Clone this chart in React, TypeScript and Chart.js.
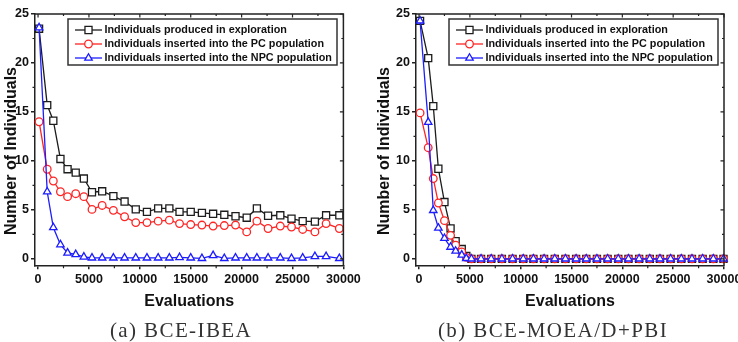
import React, { useEffect, useRef } from "react";
import { Chart, registerables } from "chart.js";

Chart.register(...registerables);

// ---------- shared labels / ticks ----------
const SERIES_LABELS = [
  "Individuals produced in exploration",
  "Individuals inserted into the PC population",
  "Individuals inserted into the NPC population",
];
const X_TITLE = "Evaluations";
const Y_TITLE = "Number of Individuals";
const X_TICKS = [0, 5000, 10000, 15000, 20000, 25000, 30000];
const X_MINOR_TICKS = [2500, 7500, 12500, 17500, 22500, 27500];
const Y_TICKS = [0, 5, 10, 15, 20, 25];
const Y_MINOR_TICKS = [2.5, 7.5, 12.5, 17.5, 22.5];

// ---------- (a) BCE-IBEA ----------
const IBEA_EVALS = [100, 900, 1500, 2200, 2900, 3700, 4500, 5300, 6300, 7400, 8500, 9600, 10700, 11800, 12900, 13900, 15000, 16100, 17200, 18300, 19400, 20500, 21500, 22600, 23800, 24900, 26000, 27200, 28300, 29600];
const IBEA_EXPLORATION = [23.5, 15.7, 14.1, 10.2, 9.15, 8.8, 8.2, 6.8, 6.9, 6.4, 5.85, 5.05, 4.8, 5.15, 5.15, 4.8, 4.8, 4.7, 4.6, 4.5, 4.35, 4.2, 5.15, 4.4, 4.45, 4.1, 3.85, 3.8, 4.45, 4.45];
const IBEA_PC = [14.0, 9.15, 7.95, 6.85, 6.35, 6.65, 6.35, 5.05, 5.45, 4.95, 4.3, 3.7, 3.7, 3.85, 3.95, 3.6, 3.5, 3.45, 3.35, 3.4, 3.45, 2.75, 3.85, 3.1, 3.35, 3.25, 3.0, 2.75, 3.6, 3.1];
const IBEA_NPC = [23.6, 6.85, 3.2, 1.45, 0.6, 0.45, 0.2, 0.1, 0.1, 0.1, 0.1, 0.1, 0.1, 0.1, 0.1, 0.15, 0.1, 0.05, 0.35, 0.05, 0.1, 0.1, 0.1, 0.1, 0.1, 0.05, 0.1, 0.25, 0.25, 0.05];

// ---------- (b) BCE-MOEA/D+PBI ----------
const PBI_EVALS = [100, 900, 1400, 1900, 2500, 3100, 3600, 4200, 4650, 5150, 6100, 7100, 8150, 9200, 10250, 11250, 12300, 13350, 14400, 15450, 16450, 17500, 18550, 19600, 20600, 21650, 22700, 23700, 24750, 25800, 26850, 27900, 28950, 29950];
const PBI_EXPLORATION = [24.3, 20.5, 15.6, 9.2, 5.8, 3.1, 1.8, 1.0, 0.3, 0, 0, 0, 0, 0, 0, 0, 0, 0, 0, 0, 0, 0, 0, 0, 0, 0, 0, 0, 0, 0, 0, 0, 0, 0];
const PBI_PC = [14.9, 11.35, 8.2, 5.7, 3.9, 2.4, 1.4, 0.7, 0.15, 0, 0, 0, 0, 0, 0, 0, 0, 0, 0, 0, 0, 0, 0, 0, 0, 0, 0, 0, 0, 0, 0, 0, 0, 0];
const PBI_NPC = [24.3, 13.95, 4.95, 3.15, 2.1, 1.2, 0.8, 0.4, 0.05, 0, 0, 0, 0, 0, 0, 0, 0, 0, 0, 0, 0, 0, 0, 0, 0, 0, 0, 0, 0, 0, 0, 0, 0, 0];

// ---------- styles ----------
const SERIES_COLORS = ["#1c1c1c", "#ff2424", "#1c1cff"];
const SERIES_MARKERS = ["rect", "circle", "triangle"];
const SERIES_RADII = [5, 3.8, 4.3];
const AXIS_COLOR = "#222222";
const TEXT_COLOR = "#111111";
const SANS = "'Liberation Sans', Arial, Helvetica, sans-serif";

type Panel = {
  canvasLeft: number;
  canvasWidth: number;
  padRight: number;
  yAxisWidth: number;
  yTitleX: number;
  evals: number[];
  series: number[][];
};

const PANELS: Panel[] = [
  { canvasLeft: 0, canvasWidth: 369, padRight: 25.6, yAxisWidth: 35, yTitleX: 12, evals: IBEA_EVALS, series: [IBEA_EXPLORATION, IBEA_PC, IBEA_NPC] },
  { canvasLeft: 369, canvasWidth: 400, padRight: 45, yAxisWidth: 47, yTitleX: 385, evals: PBI_EVALS, series: [PBI_EXPLORATION, PBI_PC, PBI_NPC] },
];

function drawMarker(ctx: CanvasRenderingContext2D, style: string, cx: number, cy: number, r: number) {
  ctx.beginPath();
  if (style === "rect") {
    const s = r * Math.SQRT1_2;
    ctx.rect(cx - s, cy - s, 2 * s, 2 * s);
  } else if (style === "circle") {
    ctx.arc(cx, cy, r, 0, Math.PI * 2);
  } else {
    let a = 0;
    ctx.moveTo(cx + Math.sin(a) * r, cy - Math.cos(a) * r);
    a += (Math.PI * 2) / 3;
    ctx.lineTo(cx + Math.sin(a) * r, cy - Math.cos(a) * r);
    a += (Math.PI * 2) / 3;
    ctx.lineTo(cx + Math.sin(a) * r, cy - Math.cos(a) * r);
    ctx.closePath();
  }
  ctx.fill();
  ctx.stroke();
}

function buildChart(canvas: HTMLCanvasElement, panel: Panel) {
  const datasets = panel.series.map((vals, i) => ({
    label: SERIES_LABELS[i],
    data: panel.evals.map((x, j) => ({ x, y: vals[j] })),
    borderColor: SERIES_COLORS[i],
    backgroundColor: "rgba(0,0,0,0)",
    pointStyle: SERIES_MARKERS[i],
    pointRadius: SERIES_RADII[i],
    pointBorderColor: SERIES_COLORS[i],
    pointBackgroundColor: "#ffffff",
    pointBorderWidth: 1.3,
    borderWidth: 1.3,
    tension: 0,
    clip: false,
    order: 3 - i,
  }));

  const decor = {
    id: "decor",
    afterDraw(chart: any) {
      const { ctx, chartArea: ca, scales } = chart;
      const xs = scales.x;
      const ys = scales.y;
      ctx.save();
      // frame: top and right
      ctx.strokeStyle = AXIS_COLOR;
      ctx.lineWidth = 1.5;
      ctx.beginPath();
      ctx.moveTo(ca.left, ca.top);
      ctx.lineTo(ca.right, ca.top);
      ctx.lineTo(ca.right, ca.bottom);
      ctx.stroke();
      // minor ticks & opposite-side ticks
      ctx.lineWidth = 1.2;
      ctx.beginPath();
      X_MINOR_TICKS.forEach((v) => {
        const px = xs.getPixelForValue(v);
        ctx.moveTo(px, ca.bottom);
        ctx.lineTo(px, ca.bottom + 2.5);
        ctx.moveTo(px, ca.top);
        ctx.lineTo(px, ca.top + 2);
      });
      X_TICKS.forEach((v) => {
        const px = xs.getPixelForValue(v);
        ctx.moveTo(px, ca.top);
        ctx.lineTo(px, ca.top + 3.5);
      });
      Y_MINOR_TICKS.forEach((v) => {
        const py = ys.getPixelForValue(v);
        ctx.moveTo(ca.left, py);
        ctx.lineTo(ca.left - 2.5, py);
        ctx.moveTo(ca.right, py);
        ctx.lineTo(ca.right - 2, py);
      });
      Y_TICKS.forEach((v) => {
        const py = ys.getPixelForValue(v);
        ctx.moveTo(ca.right, py);
        ctx.lineTo(ca.right - 3.5, py);
      });
      ctx.stroke();

      // y-axis title
      ctx.save();
      ctx.translate(panel.yTitleX - panel.canvasLeft, 151);
      ctx.rotate(-Math.PI / 2);
      ctx.fillStyle = TEXT_COLOR;
      ctx.font = `bold 16px ${SANS}`;
      ctx.textAlign = "center";
      ctx.textBaseline = "middle";
      ctx.fillText(Y_TITLE, 0, 0);
      ctx.restore();

      // legend
      const bx = ca.left + 33;
      const by = ca.top + 5;
      const bw = 269;
      const bh = 46;
      ctx.fillStyle = "#ffffff";
      ctx.fillRect(bx, by, bw, bh);
      ctx.strokeStyle = "#333333";
      ctx.lineWidth = 1.5;
      ctx.strokeRect(bx, by, bw, bh);
      ctx.font = `bold 10.8px ${SANS}`;
      ctx.textAlign = "left";
      ctx.textBaseline = "middle";
      SERIES_LABELS.forEach((lab, i) => {
        const ry = ca.top + 16 + i * 14;
        ctx.strokeStyle = SERIES_COLORS[i];
        ctx.fillStyle = "#ffffff";
        ctx.lineWidth = 1.3;
        ctx.beginPath();
        ctx.moveTo(bx + 7, ry);
        ctx.lineTo(bx + 34, ry);
        ctx.stroke();
        drawMarker(ctx, SERIES_MARKERS[i], bx + 20.5, ry, SERIES_RADII[i]);
        ctx.fillStyle = TEXT_COLOR;
        ctx.fillText(lab, bx + 36.5, ry + 0.5);
      });
      ctx.restore();
    },
  };

  return new Chart(canvas, {
    type: "line",
    data: { datasets } as any,
    plugins: [decor],
    options: {
      animation: false,
      responsive: false,
      maintainAspectRatio: false,
      devicePixelRatio: 1,
      layout: { padding: { top: 14, left: 0, right: panel.padRight, bottom: 26.3 } },
      plugins: { legend: { display: false }, tooltip: { enabled: false }, title: { display: false } },
      scales: {
        x: {
          type: "linear",
          min: -300,
          max: 30000,
          afterBuildTicks: (s: any) => {
            s.ticks = X_TICKS.map((v) => ({ value: v }));
          },
          afterFit: (s: any) => {
            s.height = 50;
          },
          grid: { display: true, drawOnChartArea: false, drawTicks: true, tickLength: 3.5, color: AXIS_COLOR, lineWidth: 1.5 },
          border: { display: true, color: AXIS_COLOR, width: 1.5 },
          ticks: {
            autoSkip: false,
            maxRotation: 0,
            padding: 2.5,
            color: TEXT_COLOR,
            font: { family: SANS, size: 12.5, weight: "bold" },
            callback: (v: any) => String(v),
          },
          title: {
            display: true,
            text: X_TITLE,
            color: TEXT_COLOR,
            font: { family: SANS, size: 16, weight: "bold" },
            padding: { top: 0, bottom: 4.4 },
          },
        },
        y: {
          type: "linear",
          min: -0.7,
          max: 25,
          afterBuildTicks: (s: any) => {
            s.ticks = Y_TICKS.map((v) => ({ value: v }));
          },
          afterFit: (s: any) => {
            s.width = panel.yAxisWidth;
          },
          grid: { display: true, drawOnChartArea: false, drawTicks: true, tickLength: 4, color: AXIS_COLOR, lineWidth: 1.5 },
          border: { display: true, color: AXIS_COLOR, width: 1.5 },
          ticks: {
            autoSkip: false,
            padding: 2,
            color: TEXT_COLOR,
            font: { family: SANS, size: 12.5, weight: "bold" },
            callback: (v: any) => String(v),
          },
          title: { display: false },
        },
      },
    } as any,
  });
}

const CAPTIONS = [
  { text: "(a) BCE-IBEA", center: 181 },
  { text: "(b) BCE-MOEA/D+PBI", center: 553 },
];

export default function App() {
  const leftRef = useRef<HTMLCanvasElement>(null);
  const rightRef = useRef<HTMLCanvasElement>(null);

  useEffect(() => {
    const charts = [buildChart(leftRef.current!, PANELS[0]), buildChart(rightRef.current!, PANELS[1])];
    return () => charts.forEach((c) => c.destroy());
  }, []);

  return (
    <div style={{ position: "fixed", left: 0, top: 0, width: 738, height: 342, overflow: "hidden", background: "#ffffff" }}>
      <canvas
        ref={leftRef}
        width={PANELS[0].canvasWidth}
        height={342}
        style={{ position: "absolute", left: PANELS[0].canvasLeft, top: 0, width: PANELS[0].canvasWidth, height: 342 }}
      />
      <canvas
        ref={rightRef}
        width={PANELS[1].canvasWidth}
        height={342}
        style={{ position: "absolute", left: PANELS[1].canvasLeft, top: 0, width: PANELS[1].canvasWidth, height: 342 }}
      />
      {CAPTIONS.map((c) => (
        <div
          key={c.text}
          style={{
            position: "absolute",
            left: c.center - 150,
            width: 300,
            top: 319,
            height: 24,
            lineHeight: "22px",
            textAlign: "center",
            fontFamily: "'Liberation Serif', 'Times New Roman', serif",
            fontSize: 21,
            letterSpacing: "1.4px",
            color: "#333333",
            whiteSpace: "nowrap",
          }}
        >
          {c.text}
        </div>
      ))}
    </div>
  );
}
